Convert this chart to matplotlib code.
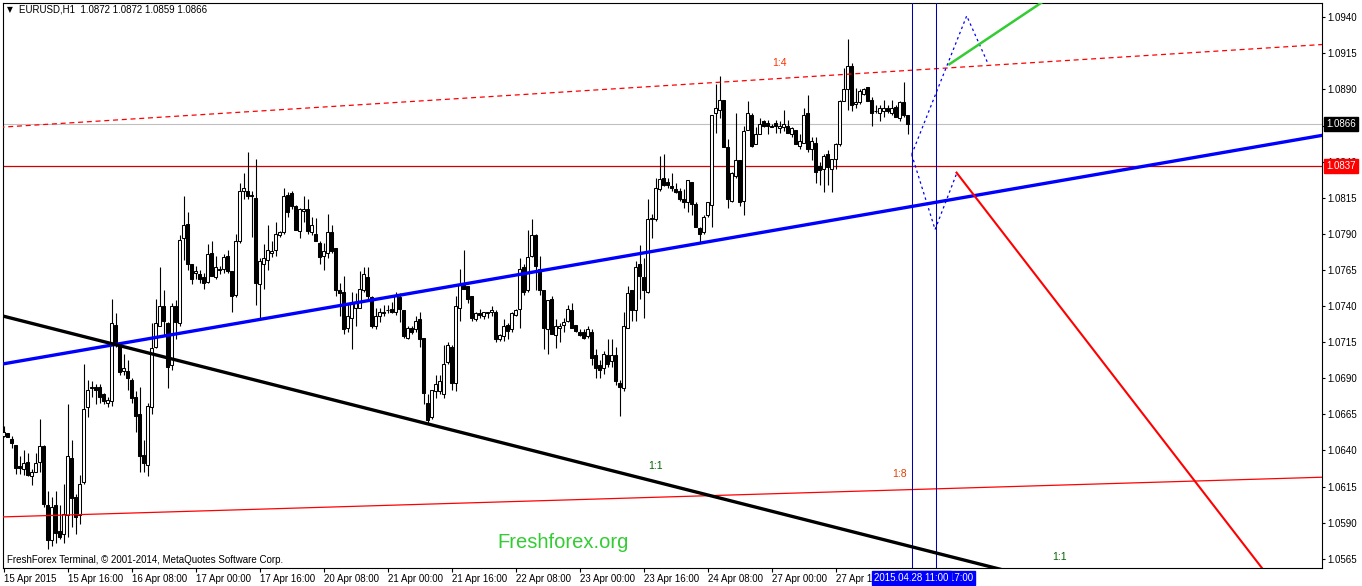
import matplotlib.pyplot as plt
from matplotlib.transforms import blended_transform_factory
import numpy as np

# EURUSD H1, one bar per hour from 15 Apr 2015 00:00 to 28 Apr 2015 10:00
opens = [
    1.0650, 1.0652, 1.0648, 1.0644, 1.0629, 1.0627, 1.0632, 1.0622, 1.0625, 1.0632,
    1.0643, 1.0602, 1.0578, 1.0602, 1.0584, 1.0582, 1.0595, 1.0635, 1.0608, 1.0595,
    1.0618, 1.0670, 1.0683, 1.0684, 1.0684, 1.0679, 1.0673, 1.0674, 1.0727, 1.0714,
    1.0695, 1.0695, 1.0689, 1.0677, 1.0665, 1.0637, 1.0630, 1.0670, 1.0712, 1.0726,
    1.0740, 1.0728, 1.0699, 1.0740, 1.0728, 1.0787, 1.0797, 1.0769, 1.0763, 1.0762,
    1.0760, 1.0757, 1.0777, 1.0760, 1.0766, 1.0766, 1.0775, 1.0764, 1.0748, 1.0785,
    1.0820, 1.0820, 1.0817, 1.0815, 1.0755, 1.0769, 1.0772, 1.0777, 1.0779, 1.0789,
    1.0791, 1.0817, 1.0818, 1.0809, 1.0792, 1.0806, 1.0807, 1.0791, 1.0790, 1.0784,
    1.0775, 1.0777, 1.0791, 1.0780, 1.0751, 1.0750, 1.0725, 1.0732, 1.0739, 1.0739,
    1.0751, 1.0760, 1.0746, 1.0726, 1.0733, 1.0735, 1.0737, 1.0738, 1.0736, 1.0746,
    1.0737, 1.0718, 1.0725, 1.0724, 1.0731, 1.0718, 1.0673, 1.0663, 1.0681, 1.0681,
    1.0679, 1.0701, 1.0712, 1.0687, 1.0739, 1.0755, 1.0754, 1.0747, 1.0731, 1.0735,
    1.0733, 1.0736, 1.0736, 1.0736, 1.0717, 1.0719, 1.0727, 1.0724, 1.0734, 1.0738,
    1.0767, 1.0751, 1.0775, 1.0789, 1.0766, 1.0751, 1.0724, 1.0745, 1.0720, 1.0725,
    1.0727, 1.0730, 1.0737, 1.0727, 1.0722, 1.0722, 1.0719, 1.0722, 1.0706, 1.0699,
    1.0697, 1.0706, 1.0702, 1.0706, 1.0687, 1.0683, 1.0725, 1.0751, 1.0737, 1.0769,
    1.0760, 1.0750, 1.0801, 1.0800, 1.0821, 1.0829, 1.0826, 1.0823, 1.0821, 1.0820,
    1.0814, 1.0812, 1.0826, 1.0811, 1.0794, 1.0791, 1.0803, 1.0810, 1.0874, 1.0876,
    1.0883, 1.0850, 1.0813, 1.0830, 1.0841, 1.0813, 1.0862, 1.0872, 1.0852, 1.0859,
    1.0868, 1.0867, 1.0865, 1.0867, 1.0863, 1.0864, 1.0865, 1.0859, 1.0862, 1.0851,
    1.0853, 1.0874, 1.0849, 1.0853, 1.0837, 1.0835, 1.0845, 1.0835, 1.0842, 1.0852,
    1.0882, 1.0890, 1.0906, 1.0880, 1.0881, 1.0887, 1.0892, 1.0883, 1.0875, 1.0874,
    1.0875, 1.0877, 1.0874, 1.0878, 1.0870, 1.0881, 1.0872,
]
highs = [
    1.0657, 1.0652, 1.0650, 1.0644, 1.0636, 1.0640, 1.0638, 1.0627, 1.0638, 1.0662,
    1.0644, 1.0612, 1.0608, 1.0612, 1.0602, 1.0617, 1.0672, 1.0647, 1.0610, 1.0623,
    1.0700, 1.0689, 1.0688, 1.0686, 1.0686, 1.0680, 1.0677, 1.0745, 1.0735, 1.0714,
    1.0707, 1.0703, 1.0690, 1.0681, 1.0684, 1.0647, 1.0673, 1.0728, 1.0745, 1.0767,
    1.0751, 1.0729, 1.0742, 1.0744, 1.0789, 1.0816, 1.0805, 1.0769, 1.0768, 1.0765,
    1.0763, 1.0783, 1.0785, 1.0775, 1.0768, 1.0776, 1.0779, 1.0764, 1.0790, 1.0825,
    1.0832, 1.0847, 1.0820, 1.0842, 1.0773, 1.0783, 1.0796, 1.0785, 1.0798, 1.0792,
    1.0822, 1.0819, 1.0820, 1.0810, 1.0808, 1.0816, 1.0814, 1.0802, 1.0801, 1.0785,
    1.0784, 1.0804, 1.0796, 1.0780, 1.0756, 1.0761, 1.0742, 1.0750, 1.0749, 1.0764,
    1.0767, 1.0767, 1.0747, 1.0739, 1.0739, 1.0741, 1.0741, 1.0743, 1.0750, 1.0749,
    1.0737, 1.0726, 1.0726, 1.0733, 1.0736, 1.0718, 1.0679, 1.0682, 1.0692, 1.0692,
    1.0713, 1.0715, 1.0713, 1.0747, 1.0766, 1.0779, 1.0754, 1.0747, 1.0736, 1.0738,
    1.0736, 1.0736, 1.0740, 1.0737, 1.0721, 1.0731, 1.0728, 1.0736, 1.0738, 1.0773,
    1.0769, 1.0793, 1.0800, 1.0790, 1.0775, 1.0751, 1.0744, 1.0747, 1.0731, 1.0728,
    1.0732, 1.0741, 1.0742, 1.0727, 1.0724, 1.0724, 1.0726, 1.0724, 1.0710, 1.0703,
    1.0709, 1.0717, 1.0717, 1.0712, 1.0689, 1.0736, 1.0754, 1.0751, 1.0771, 1.0782,
    1.0773, 1.0814, 1.0804, 1.0829, 1.0844, 1.0845, 1.0829, 1.0832, 1.0825, 1.0822,
    1.0821, 1.0827, 1.0826, 1.0812, 1.0795, 1.0803, 1.0812, 1.0872, 1.0894, 1.0899,
    1.0883, 1.0856, 1.0833, 1.0874, 1.0841, 1.0865, 1.0882, 1.0874, 1.0864, 1.0870,
    1.0869, 1.0869, 1.0866, 1.0869, 1.0868, 1.0876, 1.0869, 1.0864, 1.0862, 1.0859,
    1.0877, 1.0886, 1.0857, 1.0857, 1.0840, 1.0845, 1.0848, 1.0842, 1.0853, 1.0883,
    1.0905, 1.0925, 1.0908, 1.0891, 1.0890, 1.0891, 1.0892, 1.0885, 1.0879, 1.0879,
    1.0883, 1.0879, 1.0883, 1.0879, 1.0882, 1.0895, 1.0872,
]
lows = [
    1.0649, 1.0649, 1.0642, 1.0624, 1.0624, 1.0623, 1.0622, 1.0616, 1.0625, 1.0625,
    1.0601, 1.0572, 1.0574, 1.0576, 1.0579, 1.0576, 1.0580, 1.0587, 1.0582, 1.0589,
    1.0617, 1.0663, 1.0677, 1.0672, 1.0673, 1.0672, 1.0670, 1.0671, 1.0712, 1.0692,
    1.0692, 1.0682, 1.0673, 1.0653, 1.0625, 1.0625, 1.0622, 1.0665, 1.0711, 1.0726,
    1.0720, 1.0683, 1.0696, 1.0717, 1.0726, 1.0772, 1.0765, 1.0755, 1.0759, 1.0756,
    1.0752, 1.0756, 1.0761, 1.0759, 1.0762, 1.0763, 1.0763, 1.0736, 1.0746, 1.0784,
    1.0814, 1.0814, 1.0788, 1.0741, 1.0731, 1.0752, 1.0765, 1.0774, 1.0775, 1.0788,
    1.0790, 1.0802, 1.0807, 1.0793, 1.0787, 1.0798, 1.0790, 1.0789, 1.0785, 1.0769,
    1.0765, 1.0773, 1.0777, 1.0747, 1.0733, 1.0721, 1.0722, 1.0710, 1.0726, 1.0739,
    1.0750, 1.0744, 1.0725, 1.0724, 1.0729, 1.0733, 1.0735, 1.0735, 1.0734, 1.0729,
    1.0718, 1.0717, 1.0721, 1.0722, 1.0712, 1.0672, 1.0658, 1.0662, 1.0676, 1.0679,
    1.0676, 1.0700, 1.0682, 1.0681, 1.0730, 1.0752, 1.0742, 1.0730, 1.0730, 1.0732,
    1.0731, 1.0732, 1.0733, 1.0715, 1.0716, 1.0716, 1.0717, 1.0722, 1.0733, 1.0725,
    1.0748, 1.0750, 1.0774, 1.0751, 1.0748, 1.0710, 1.0707, 1.0721, 1.0711, 1.0715,
    1.0722, 1.0729, 1.0725, 1.0722, 1.0719, 1.0717, 1.0718, 1.0699, 1.0690, 1.0690,
    1.0693, 1.0698, 1.0698, 1.0685, 1.0664, 1.0681, 1.0725, 1.0730, 1.0730, 1.0745,
    1.0732, 1.0749, 1.0787, 1.0799, 1.0820, 1.0823, 1.0822, 1.0820, 1.0818, 1.0813,
    1.0808, 1.0805, 1.0803, 1.0795, 1.0784, 1.0790, 1.0802, 1.0795, 1.0860, 1.0870,
    1.0850, 1.0808, 1.0812, 1.0829, 1.0809, 1.0803, 1.0862, 1.0850, 1.0852, 1.0859,
    1.0864, 1.0859, 1.0864, 1.0860, 1.0860, 1.0861, 1.0860, 1.0857, 1.0852, 1.0849,
    1.0853, 1.0847, 1.0841, 1.0825, 1.0824, 1.0819, 1.0824, 1.0819, 1.0835, 1.0851,
    1.0882, 1.0876, 1.0875, 1.0877, 1.0880, 1.0886, 1.0882, 1.0865, 1.0874, 1.0868,
    1.0871, 1.0874, 1.0872, 1.0871, 1.0868, 1.0871, 1.0859,
]
closes = [
    1.0653, 1.0649, 1.0645, 1.0628, 1.0628, 1.0631, 1.0623, 1.0625, 1.0631, 1.0643,
    1.0603, 1.0578, 1.0601, 1.0583, 1.0580, 1.0596, 1.0636, 1.0607, 1.0594, 1.0617,
    1.0669, 1.0682, 1.0684, 1.0682, 1.0677, 1.0674, 1.0675, 1.0728, 1.0713, 1.0694,
    1.0697, 1.0690, 1.0676, 1.0664, 1.0636, 1.0631, 1.0671, 1.0711, 1.0728, 1.0740,
    1.0730, 1.0698, 1.0740, 1.0729, 1.0786, 1.0796, 1.0769, 1.0759, 1.0764, 1.0759,
    1.0756, 1.0776, 1.0761, 1.0767, 1.0765, 1.0774, 1.0764, 1.0747, 1.0785, 1.0820,
    1.0822, 1.0816, 1.0816, 1.0756, 1.0771, 1.0773, 1.0779, 1.0778, 1.0790, 1.0791,
    1.0816, 1.0805, 1.0809, 1.0793, 1.0807, 1.0807, 1.0792, 1.0796, 1.0785, 1.0774,
    1.0778, 1.0791, 1.0778, 1.0751, 1.0749, 1.0724, 1.0733, 1.0742, 1.0742, 1.0752,
    1.0762, 1.0747, 1.0726, 1.0733, 1.0736, 1.0736, 1.0737, 1.0736, 1.0747, 1.0738,
    1.0719, 1.0725, 1.0722, 1.0730, 1.0717, 1.0680, 1.0661, 1.0682, 1.0686, 1.0688,
    1.0700, 1.0713, 1.0687, 1.0740, 1.0755, 1.0752, 1.0745, 1.0732, 1.0735, 1.0734,
    1.0736, 1.0735, 1.0737, 1.0717, 1.0720, 1.0726, 1.0723, 1.0735, 1.0737, 1.0766,
    1.0750, 1.0774, 1.0789, 1.0768, 1.0751, 1.0725, 1.0744, 1.0721, 1.0726, 1.0726,
    1.0729, 1.0738, 1.0725, 1.0723, 1.0720, 1.0718, 1.0724, 1.0704, 1.0697, 1.0696,
    1.0707, 1.0700, 1.0706, 1.0688, 1.0684, 1.0726, 1.0749, 1.0737, 1.0767, 1.0761,
    1.0751, 1.0800, 1.0800, 1.0822, 1.0828, 1.0824, 1.0824, 1.0822, 1.0819, 1.0814,
    1.0812, 1.0827, 1.0811, 1.0795, 1.0790, 1.0802, 1.0812, 1.0872, 1.0877, 1.0883,
    1.0850, 1.0814, 1.0832, 1.0841, 1.0812, 1.0861, 1.0874, 1.0851, 1.0859, 1.0866,
    1.0865, 1.0865, 1.0864, 1.0865, 1.0865, 1.0866, 1.0860, 1.0863, 1.0852, 1.0854,
    1.0872, 1.0849, 1.0854, 1.0833, 1.0834, 1.0844, 1.0836, 1.0842, 1.0852, 1.0882,
    1.0890, 1.0906, 1.0879, 1.0881, 1.0889, 1.0890, 1.0882, 1.0874, 1.0875, 1.0877,
    1.0877, 1.0875, 1.0877, 1.0871, 1.0881, 1.0872, 1.0866,
]

time_ticks = [0, 16, 32, 48, 64, 80, 96, 112, 128, 144, 160, 176, 192, 208]
time_labels = ['15 Apr 2015', '15 Apr 16:00', '16 Apr 08:00', '17 Apr 00:00',
               '17 Apr 16:00', '20 Apr 08:00', '21 Apr 00:00', '21 Apr 16:00',
               '22 Apr 08:00', '23 Apr 00:00', '23 Apr 16:00', '24 Apr 08:00',
               '27 Apr 00:00', '27 Apr 16:00']
price_ticks = [1.0565, 1.0590, 1.0615, 1.0640, 1.0665, 1.0690, 1.0715, 1.0740,
               1.0765, 1.0790, 1.0815, 1.0840, 1.0865, 1.0890, 1.0915, 1.0940]

# objects drawn on the chart (bar index, price)
blue_trend = [(0, 1.0700), (300, 1.0844)]
black_trend = [(0, 1.0733), (300, 1.0522)]
red_lower = [(0, 1.0594), (300, 1.0619)]
red_upper = [(0, 1.0864), (300, 1.0916)]
red_down = [(238.1, 1.0833), (300, 1.0611)]
green_up = [(236.2, 1.0907), (259.4, 1.0950)]
zig_up_x = [227.05, 240.8, 245.95]
zig_up_y = [1.0845, 1.0941, 1.0909]
zig_dn_x = [227.05, 232.9, 238.45]
zig_dn_y = [1.0845, 1.0793, 1.0833]
vline_bars = [227, 233]
vline_labels = ['2015.04.28 11:00', '2015.04.28 17:00']
bid_price = 1.0866
hline_price = 1.0837

FONT = 'Liberation Sans'


def ray(ax, pts, x0, x1, **kw):
    (xa, ya), (xb, yb) = pts
    k = (yb - ya) / (xb - xa)
    ax.plot([x0, x1], [ya + k * (x0 - xa), ya + k * (x1 - xa)],
            solid_capstyle='butt', **kw)


fig = plt.figure(figsize=(13.62, 5.86), dpi=100)
ax = fig.add_axes([3 / 1362, 18 / 586, 1319 / 1362, 565 / 586])
ax.set_xlim(-0.125, 329.625)
ax.set_ylim(1.05586, 1.09499)

x = np.arange(len(opens))
o = np.array(opens)
h = np.array(highs)
l = np.array(lows)
c = np.array(closes)
up = c >= o

# candles
ax.vlines(x, l, h, color='black', lw=0.8, zorder=2)
ax.bar(x[up], np.maximum(c[up] - o[up], 0.00001), bottom=o[up], width=0.55,
       color='white', edgecolor='black', lw=0.75, zorder=3)
ax.bar(x[~up], o[~up] - c[~up], bottom=c[~up], width=0.55,
       color='black', edgecolor='black', lw=0.75, zorder=3)

# horizontal lines
ax.axhline(bid_price, color='#c0c0c0', lw=0.8, zorder=1)
ax.axhline(hline_price, color='#d00000', lw=0.9, zorder=1)

# trend lines
ray(ax, red_lower, -1, 340, color='red', lw=0.9, zorder=4)
ray(ax, red_upper, -1, 340, color='red', lw=0.9, ls=(0, (4, 3)), zorder=4)
ray(ax, blue_trend, -1, 340, color='#0000ff', lw=2.4, zorder=5)
ray(ax, black_trend, -1, 340, color='black', lw=2.4, zorder=5)
ray(ax, red_down, red_down[0][0], 340, color='red', lw=1.5, zorder=5)
ray(ax, green_up, green_up[0][0], 270, color='#33cc33', lw=1.8, zorder=5)

ax.plot(zig_up_x, zig_up_y, color='#0000ff', lw=0.9, ls=(0, (2, 2.5)), zorder=4)
ax.plot(zig_dn_x, zig_dn_y, color='#0000ff', lw=0.9, ls=(0, (2, 2.5)), zorder=4)
for b in vline_bars:
    ax.axvline(b, color='#0000b0', lw=0.75, zorder=4)

# ratio labels
ax.text(193.9, 1.09084, '1:4', color='#ff3300', fontsize=7.5, family=FONT,
        ha='center', va='center')
ax.text(223.9, 1.06237, '1:8', color='#e04000', fontsize=7.5, family=FONT,
        ha='center', va='center')
ax.text(162.9, 1.06293, '1:1', color='#006400', fontsize=7.5, family=FONT,
        ha='center', va='center')
ax.text(264.1, 1.05663, '1:1', color='#006400', fontsize=7.5, family=FONT,
        ha='center', va='center')

# axes styling
for s in ax.spines.values():
    s.set_linewidth(0.8)
    s.set_color('black')
ax.yaxis.tick_right()
ax.set_yticks(price_ticks)
ax.set_yticklabels([f'{p:.4f}' for p in price_ticks])
ax.tick_params(axis='y', length=2.5, width=0.8, pad=1.5, labelsize=7)
ax.set_xticks(time_ticks)
ax.set_xticklabels(time_labels)
ax.tick_params(axis='x', length=3, width=0.8, pad=1, labelsize=7)
for t in ax.get_xticklabels() + ax.get_yticklabels():
    t.set_family(FONT)
for t in ax.get_xticklabels():
    t.set_ha('left')

# price boxes on the right scale
ytr = blended_transform_factory(ax.transAxes, ax.transData)
ax.text(1.0033, bid_price, f'{bid_price:.4f}', transform=ytr, color='white',
        fontsize=7, family=FONT, va='center', ha='left', zorder=10, clip_on=False,
        bbox=dict(boxstyle='square,pad=0.2', fc='black', ec='black'))
ax.text(1.0033, hline_price, f'{hline_price:.4f}', transform=ytr, color='white',
        fontsize=7, family=FONT, va='center', ha='left', zorder=10, clip_on=False,
        bbox=dict(boxstyle='square,pad=0.2', fc='red', ec='red'))

# time boxes for the vertical lines
xtr = blended_transform_factory(ax.transData, ax.transAxes)
for b, lab, z in zip(vline_bars[::-1], vline_labels[::-1], [10, 11]):
    ax.text(b, -0.018, lab, transform=xtr, color='white', fontsize=7, family=FONT,
            ha='center', va='center', zorder=z, clip_on=False,
            bbox=dict(boxstyle='square,pad=0.2', fc='#0000ff', ec='#0000ff'))

# header and captions
fig.text(10 / 1362, 1 - 10 / 586, '\u25bc', fontsize=5.5, color='black',
         ha='center', va='center')
fig.text(19 / 1362, 1 - 10 / 586, 'EURUSD,H1  1.0872 1.0872 1.0859 1.0866',
         fontsize=7, family=FONT, color='black', ha='left', va='center')
fig.text(7 / 1362, 1 - 560 / 586,
         'FreshForex Terminal, \u00a9 2001-2014, MetaQuotes Software Corp.',
         fontsize=7, family=FONT, color='black', ha='left', va='center')
fig.text(563 / 1362, 1 - 542 / 586, 'Freshforex.org', fontsize=14.5, family=FONT,
         color='#33cc33', ha='center', va='center')

fig.savefig('out.png', dpi=100)
